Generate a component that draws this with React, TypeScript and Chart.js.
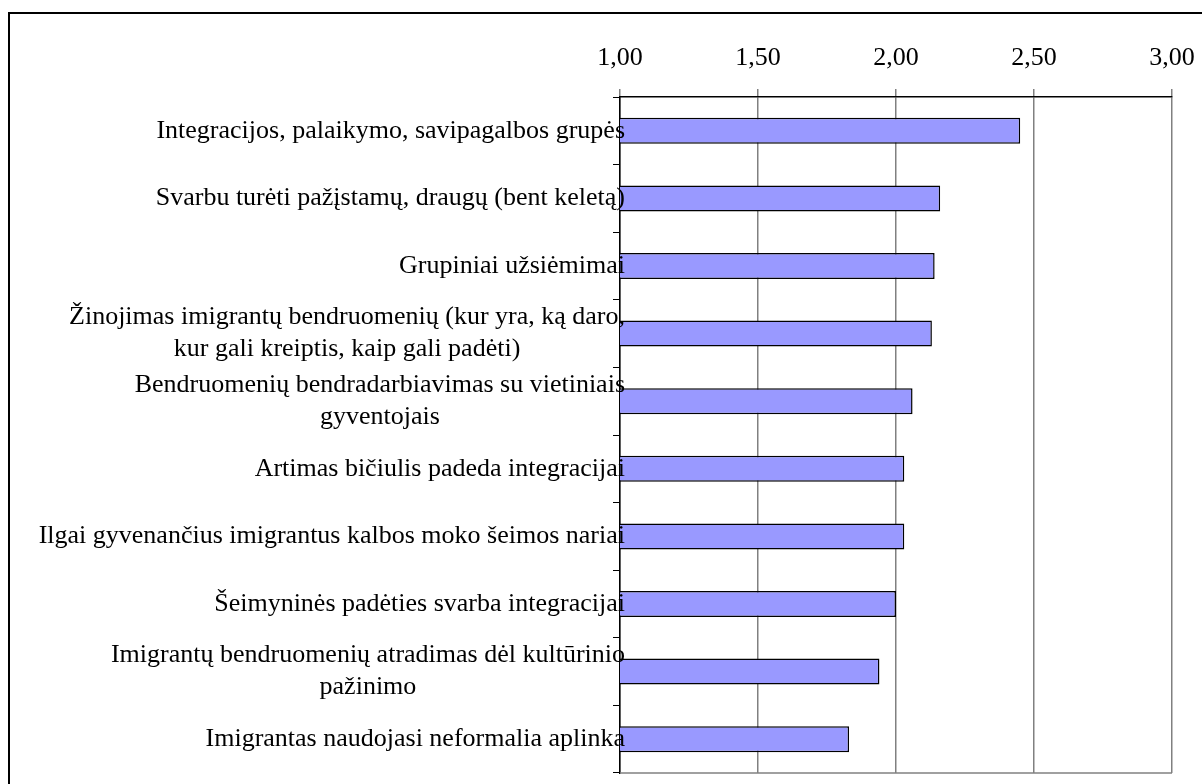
import React, { useEffect, useRef } from "react";
import { Chart, registerables } from "chart.js";

Chart.register(...registerables);

const categories: string[][] = [
  ["Integracijos, palaikymo, savipagalbos grupės"],
  ["Svarbu turėti pažįstamų, draugų (bent keletą)"],
  ["Grupiniai užsiėmimai"],
  ["Žinojimas imigrantų bendruomenių (kur yra, ką daro,", "kur gali kreiptis, kaip gali padėti)"],
  ["Bendruomenių bendradarbiavimas su vietiniais", "gyventojais"],
  ["Artimas bičiulis padeda integracijai"],
  ["Ilgai gyvenančius imigrantus kalbos moko šeimos nariai"],
  ["Šeimyninės padėties svarba integracijai"],
  ["Imigrantų bendruomenių atradimas dėl kultūrinio", "pažinimo"],
  ["Imigrantas naudojasi neformalia aplinka"],
];

const values: number[] = [2.45, 2.16, 2.14, 2.13, 2.06, 2.03, 2.03, 2.0, 1.94, 1.83];

const xTickLabels: string[] = ["1,00", "1,50", "2,00", "2,50", "3,00"];
const xMin = 1;
const xMax = 3;
const xStep = 0.5;

const FONT = "'Liberation Serif', 'Times New Roman', serif";

const labelPlugin = {
  id: "centeredCategoryLabels",
  afterDraw(chart: any) {
    const ctx = chart.ctx;
    const yScale = chart.scales.y;
    const area = chart.chartArea;
    ctx.save();
    ctx.font = `26px ${FONT}`;
    ctx.fillStyle = "#000";
    ctx.textAlign = "center";
    ctx.textBaseline = "middle";
    const lineHeight = 32;
    categories.forEach((lines, i) => {
      const y = yScale.getPixelForValue(i);
      const widest = Math.max(...lines.map((l) => ctx.measureText(l).width));
      const cx = area.left + 5 - widest / 2;
      lines.forEach((line, j) => {
        ctx.fillText(line, cx, y + (j - (lines.length - 1) / 2) * lineHeight);
      });
    });
    ctx.restore();
  },
};

const bottomLinePlugin = {
  id: "bottomLine",
  beforeDatasetsDraw(chart: any) {
    const ctx = chart.ctx;
    const a = chart.chartArea;
    ctx.save();
    ctx.strokeStyle = "#808080";
    ctx.lineWidth = 1.5;
    ctx.beginPath();
    ctx.moveTo(a.left, a.bottom);
    ctx.lineTo(a.right, a.bottom);
    ctx.stroke();
    ctx.restore();
  },
};

export default function App() {
  const ref = useRef<HTMLCanvasElement | null>(null);

  useEffect(() => {
    if (!ref.current) return;
    Chart.defaults.font.family = FONT;
    const chart = new Chart(ref.current, {
      type: "bar",
      data: {
        labels: categories.map((c) => c.join(" ")),
        datasets: [
          {
            data: values,
            backgroundColor: "#9999FF",
            borderColor: "#000000",
            borderWidth: 1.5,
            barPercentage: 0.385,
            categoryPercentage: 1,
          },
        ],
      },
      options: {
        indexAxis: "y",
        animation: false,
        responsive: false,
        maintainAspectRatio: false,
        layout: { padding: { top: 0, left: 0, right: 30, bottom: 11 } },
        plugins: {
          legend: { display: false },
          tooltip: { enabled: false },
          title: { display: false },
        },
        scales: {
          x: {
            position: "top",
            min: xMin,
            max: xMax,
            ticks: {
              stepSize: xStep,
              color: "#000",
              font: { size: 26, family: FONT },
              padding: 15,
              maxRotation: 0,
              callback: (_v: any, idx: number) => xTickLabels[idx],
            },
            grid: {
              color: "#808080",
              lineWidth: 1.5,
              tickLength: 8,
              drawOnChartArea: true,
              drawTicks: true,
            },
            border: { display: true, color: "#000", width: 1.5 },
            afterFit: (s: any) => {
              s.height = 97;
              s.paddingLeft = 0;
              s.paddingRight = 0;
            },
          },
          y: {
            position: "left",
            offset: true,
            ticks: { display: false },
            grid: {
              offset: true,
              drawOnChartArea: false,
              drawTicks: true,
              tickLength: 7,
              color: "#000",
              lineWidth: 1,
            },
            border: { display: true, color: "#000", width: 1.5 },
            afterFit: (s: any) => {
              s.width = 620;
              s.paddingTop = 0;
              s.paddingBottom = 0;
            },
          },
        },
      },
      plugins: [bottomLinePlugin, labelPlugin],
    });
    return () => chart.destroy();
  }, []);

  return (
    <div
      style={{
        position: "absolute",
        left: 0,
        top: 0,
        width: 1202,
        height: 784,
        overflow: "hidden",
        background: "#fff",
      }}
    >
      <div
        style={{
          position: "absolute",
          left: 8,
          top: 12,
          width: 1220,
          height: 820,
          border: "2px solid #000",
          boxSizing: "border-box",
        }}
      />
      <canvas
        ref={ref}
        width={1202}
        height={784}
        style={{ position: "absolute", left: 0, top: 0, width: 1202, height: 784 }}
      />
    </div>
  );
}
